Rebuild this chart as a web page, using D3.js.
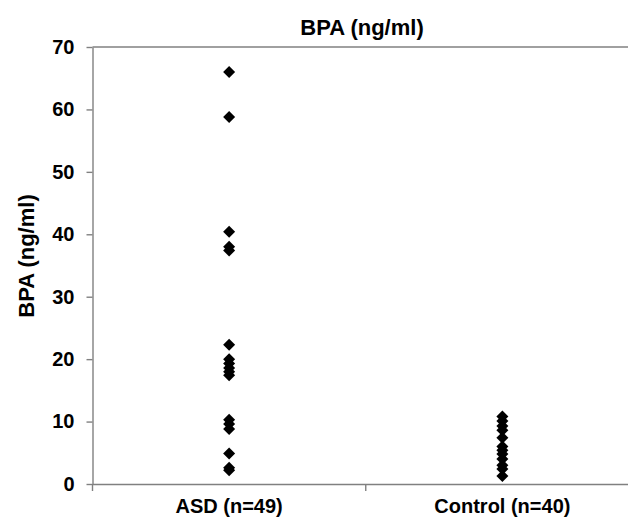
<!DOCTYPE html>
<html><head><meta charset="utf-8">
<script src="https://cdn.jsdelivr.net/npm/d3@7/dist/d3.min.js"></script>
<style>body{margin:0;background:#fff;}svg{display:block;font-family:"Liberation Sans",Arial,sans-serif;}</style>
</head><body>
<svg id="c" width="628" height="518"></svg>
<script>
const categories = ["ASD (n=49)", "Control (n=40)"];
const asdValues = [66.0, 58.8, 40.4, 38.0, 37.4, 22.3, 20.0, 19.3, 18.6, 18.0, 17.4, 10.3, 9.6, 8.8, 4.9, 2.6, 2.2];
const controlValues = [10.8, 10.1, 9.3, 8.6, 7.4, 6.0, 5.4, 4.8, 4.0, 3.0, 2.4, 1.3];
const yTicks = [0, 10, 20, 30, 40, 50, 60, 70];
const title = "BPA (ng/ml)";
const yLabel = "BPA (ng/ml)";

const svg = d3.select("#c");
const mLeft = 92.5, mTop = 47, mBottom = 484, mRight = 639;
const y = d3.scaleLinear().domain([0, 70]).range([mBottom, mTop]);
const x = d3.scaleBand().domain(categories).range([mLeft, mRight]);
const axisColor = "#808080";
const font = "Liberation Sans, Arial, sans-serif";

// top border
svg.append("line").attr("x1", mLeft).attr("x2", mRight).attr("y1", y(70)).attr("y2", y(70))
  .attr("stroke", axisColor).attr("stroke-width", 1.4);

// y axis
const ya = svg.append("g").attr("transform", `translate(${mLeft},0)`)
  .call(d3.axisLeft(y).tickValues(yTicks).tickSize(6).tickPadding(12).tickSizeOuter(0));
ya.selectAll("path,line").attr("stroke", axisColor).attr("stroke-width", 1.4);
ya.selectAll("text").attr("font-size", 20).attr("font-weight", "bold").attr("fill", "#000")
  .attr("font-family", font);

// x axis
const xa = svg.append("g").attr("transform", `translate(0,${mBottom})`)
  .call(d3.axisBottom(x).tickSize(0).tickPadding(15).tickSizeOuter(0));
xa.select("path").attr("stroke", axisColor).attr("stroke-width", 1.4);
xa.selectAll("text").attr("font-size", 20).attr("font-weight", "bold").attr("fill", "#000")
  .attr("font-family", font);
// category boundary ticks
const bounds = [mLeft, mLeft + x.bandwidth()];
svg.selectAll("line.bt").data(bounds).enter().append("line")
  .attr("x1", d => d).attr("x2", d => d).attr("y1", mBottom).attr("y2", mBottom + 7)
  .attr("stroke", axisColor).attr("stroke-width", 1.4);

// points
const diamond = d3.symbol().type(d3.symbolSquare).size(72);
const pts = [];
asdValues.forEach(v => pts.push({c: categories[0], v}));
controlValues.forEach(v => pts.push({c: categories[1], v}));
svg.append("g").selectAll("path").data(pts).enter().append("path")
  .attr("d", diamond)
  .attr("transform", d => `translate(${x(d.c) + x.bandwidth()/2},${y(d.v)}) rotate(45)`)
  .attr("fill", "#000");

// title
svg.append("text").attr("x", 362).attr("y", 35).attr("text-anchor", "middle")
  .attr("font-size", 22).attr("font-weight", "bold").attr("font-family", font).text(title);

// y label
svg.append("text").attr("transform", `translate(34,256) rotate(-90)`)
  .attr("text-anchor", "middle").attr("font-size", 22).attr("font-weight", "bold")
  .attr("font-family", font).text(yLabel);
</script>
</body></html>
